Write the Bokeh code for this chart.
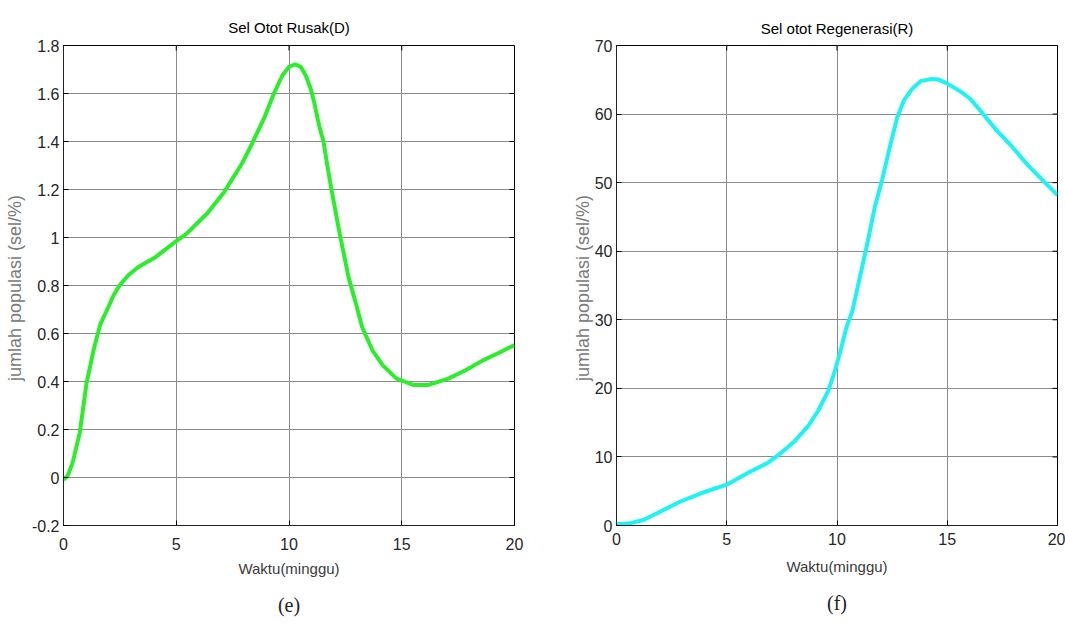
import math
from bokeh.plotting import figure
from bokeh.models import Range1d, FixedTicker, Title
from bokeh.layouts import row
from bokeh.embed import file_html
from bokeh.resources import INLINE

# ---- data: Sel Otot Rusak (D) ----
t_d = [0, 0.2, 0.41, 0.72, 1.02, 1.33, 1.63, 1.94, 2.2, 2.48, 2.9, 3.32, 4.08,
       5.0, 5.45, 6.37, 7.13, 7.9, 8.3, 8.89, 9.33, 9.71, 10.0, 10.27, 10.52,
       10.74, 10.96, 11.11, 11.33, 11.53, 11.73, 11.87, 12.25, 12.64, 12.94,
       13.25, 13.7, 14.16, 14.77, 15.54, 16.15, 17.07, 17.83, 18.6, 19.36, 20.0]
d_vals = [-0.01, 0.01, 0.063, 0.186, 0.392, 0.529, 0.638, 0.70, 0.755, 0.80,
          0.845, 0.877, 0.918, 0.985, 1.015, 1.10, 1.19, 1.306, 1.379, 1.496,
          1.60, 1.676, 1.711, 1.722, 1.711, 1.676, 1.621, 1.566, 1.469, 1.40,
          1.283, 1.207, 1.015, 0.835, 0.734, 0.625, 0.53, 0.467, 0.412, 0.385,
          0.385, 0.412, 0.447, 0.488, 0.522, 0.552]

# ---- data: Sel otot Regenerasi (R) ----
t_r = [0, 0.64, 1.25, 2.0, 2.9, 3.83, 5.0, 5.95, 6.86, 7.47, 8.08, 8.69, 9.14,
       9.6, 9.9, 10.2, 10.43, 10.7, 11.34, 11.72, 12.05, 12.35, 12.73, 13.03,
       13.41, 13.79, 14.24, 14.62, 15.03, 15.6, 16.05, 16.5, 17.27, 17.84,
       18.7, 19.47, 20.0]
r_vals = [0.2, 0.34, 0.83, 2.05, 3.5, 4.7, 5.95, 7.66, 9.12, 10.6, 12.3, 14.5,
          16.7, 19.6, 22.5, 26.0, 28.9, 31.3, 40.6, 46.5, 50.46, 54.6, 59.5,
          61.95, 63.67, 64.8, 65.1, 65.03, 64.4, 63.3, 62.2, 60.5, 57.5, 55.6,
          52.4, 49.9, 48.2]

x_ticks = [0, 5, 10, 15, 20]
x_tick_labels = ["0", "5", "10", "15", "20"]
yd_ticks = [-0.2, 0, 0.2, 0.4, 0.6, 0.8, 1.0, 1.2, 1.4, 1.6, 1.8]
yd_tick_labels = ["-0.2", "0", "0.2", "0.4", "0.6", "0.8", "1", "1.2", "1.4", "1.6", "1.8"]
yr_ticks = [0, 10, 20, 30, 40, 50, 60, 70]
yr_tick_labels = ["0", "10", "20", "30", "40", "50", "60", "70"]

titles = ["Sel Otot Rusak(D)", "Sel otot Regenerasi(R)"]
captions = ["(e)", "(f)"]
x_label = "Waktu(minggu)"
y_label = "jumlah populasi  (sel/%)"

SANS = "Liberation Sans"
SERIF = "Liberation Serif"


def make(width, height, bl, br, bt, bb, yrange, yticks, ylabels, title,
         caption, title_so, tick_so, xlab_so, cap_so, ylab_so):
    p = figure(width=width, height=height, output_backend="svg",
               toolbar_location=None, x_range=Range1d(0, 20),
               y_range=Range1d(*yrange),
               min_border_left=bl, min_border_right=br,
               min_border_top=bt, min_border_bottom=bb)
    p.background_fill_color = "white"
    p.border_fill_color = "white"
    p.outline_line_color = "black"
    p.outline_line_width = 1

    t = Title(text=title, align="center", text_font=SANS,
              text_font_size="15px", text_font_style="normal",
              text_color="black", standoff=title_so)
    p.add_layout(t, "above")

    xa = p.below[0]
    ya = p.left[0]
    xa.ticker = FixedTicker(ticks=x_ticks)
    xa.major_label_overrides = dict(zip(x_ticks, x_tick_labels))
    ya.ticker = FixedTicker(ticks=yticks)
    ya.major_label_overrides = dict(zip(yticks, ylabels))

    for ax in (xa, ya):
        ax.major_tick_in = 5
        ax.major_tick_out = 0
        ax.minor_tick_line_color = None
        ax.major_tick_line_color = "black"
        ax.axis_line_color = "#222222"
        ax.major_label_text_font = SANS
        ax.major_label_text_font_size = "16px"
        ax.major_label_text_color = "#262626"

    xa.major_label_standoff = tick_so
    ya.major_label_standoff = 4
    xa.axis_label = x_label
    xa.axis_label_text_font = SANS
    xa.axis_label_text_font_size = "15px"
    xa.axis_label_text_font_style = "normal"
    xa.axis_label_text_color = "#3a3a3a"
    xa.axis_label_standoff = xlab_so

    ya.axis_label = y_label
    ya.axis_label_text_font = SANS
    ya.axis_label_text_font_size = "18px"
    ya.axis_label_text_font_style = "normal"
    ya.axis_label_text_color = "#7a7a7a"
    ya.axis_label_standoff = ylab_so

    p.xgrid.ticker = FixedTicker(ticks=x_ticks)
    p.ygrid.ticker = FixedTicker(ticks=yticks)
    p.grid.grid_line_color = "#8c8c8c"
    p.grid.grid_line_width = 1

    # mirrored inward ticks on top and right edges (MATLAB box style)
    ymax = yrange[1]
    p.ray(x=x_ticks, y=[ymax] * len(x_ticks), length=5, length_units="screen",
          angle=-math.pi / 2, line_color="black", line_width=1)
    p.ray(x=[20] * len(yticks), y=yticks, length=5, length_units="screen",
          angle=math.pi, line_color="black", line_width=1)

    c = Title(text=caption, align="center", text_font=SERIF,
              text_font_size="20px", text_font_style="normal",
              text_color="#222222", standoff=cap_so, offset=-18)
    p.add_layout(c, "below")
    return p


p1 = make(540, 628, 63, 26, 45, 103, (-0.2, 1.8), yd_ticks, yd_tick_labels,
          titles[0], captions[0], title_so=20, tick_so=12, xlab_so=7,
          cap_so=25, ylab_so=4)
p1.line(t_d, d_vals, line_color="#2ced2c", line_width=4)

p2 = make(525, 628, 76, 8, 45, 103, (0, 70), yr_ticks, yr_tick_labels,
          titles[1], captions[1], title_so=18, tick_so=7, xlab_so=10,
          cap_so=25, ylab_so=-1)
p2.line(t_r, r_vals, line_color="#1ef2f2", line_width=4)

layout = row(p1, p2)
open("out.html", "w").write(file_html(layout, INLINE))
